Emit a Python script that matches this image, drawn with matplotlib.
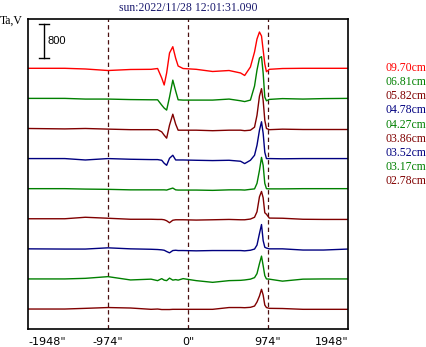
import matplotlib
matplotlib.use('Agg')
from matplotlib import pyplot as plt

# channel labels (top trace first) and their colours
freq_labels = ['09.70cm', '06.81cm', '05.82cm', '04.78cm', '04.27cm',
               '03.86cm', '03.52cm', '03.17cm', '02.78cm']
trace_colors = ['#ff0000', '#008000', '#800000', '#000080', '#008000',
                '#800000', '#000080', '#008000', '#800000']

# scan position, arcsec
x_arcsec = [-1948, -1500, -1250, -974, -700, -450, -370, -320, -290, -260, -225,
            -185, -150, -120, -60, 100, 300, 500, 640, 690, 760, 810, 840, 870,
            895, 915, 935, 955, 990, 1150, 1400, 1650, 1948]

# antenna temperature above each trace's baseline
ta_0970 = [0, 0, -16, -52, -28, -24, -5, -228, -393, -110, 360, 508, 235, 54, -5, -24,
           -75, -52, -110, -169, 31, 384, 690, 854, 760, 430, 100, -80, -24, -5, 0, 0, 0]
ta_0681 = [0, 0, -16, -16, -28, -33, -33, -158, -228, -275, 31, 430, 172, -33, -40, -40,
           -40, -16, -56, -75, -40, 290, 666, 948, 983, 595, 31, -56, -24, -5, -16, -5, 0]
ta_0582 = [0, -10, 0, -15, -28, -28, -28, -80, -158, -228, 78, 336, 101, -40, -40, -40,
           -52, -40, -40, -52, -40, 31, 310, 760, 937, 660, 195, 0, -28, -16, -24, -24, -24]
ta_0478 = [0, 0, -33, 0, -16, -24, -24, -40, -110, -158, 7, 78, -33, -33, -33, -40,
           -47, -40, -63, -118, -40, 78, 313, 666, 866, 595, 148, 0, 0, -5, 0, 0, 0]
ta_0427 = [0, 0, -10, -16, -28, -28, -28, -28, -28, -33, -10, 14, -28, -33, -33, -33,
           -40, -28, -28, -33, -16, -5, 125, 430, 736, 548, 125, 0, -5, -5, 0, 0, 0]
ta_0386 = [0, 0, 35, 12, -12, -12, -16, -16, -24, -47, -94, -35, -24, -24, -24, -31,
           -24, -16, -24, -24, -7, 35, 165, 517, 642, 494, 141, 106, 16, 12, -12, -16, -16]
ta_0352 = [0, -5, -5, 24, 0, -10, -16, -24, -33, -63, -94, -40, -33, -40, -40, -47,
           -40, -40, -40, -47, -33, -5, 89, 360, 572, 195, 38, 19, 0, 0, -28, -28, -5]
ta_0317 = [0, 0, 14, 54, -24, -5, -40, 7, -28, -40, 19, -28, -16, -28, 7, -40,
           -80, -40, -33, -24, -5, 31, 125, 360, 537, 313, 78, 0, -5, -52, -5, 0, 0]
ta_0278 = [0, 0, 16, 35, 24, -7, 0, -12, -12, -12, -12, -7, -7, -7, -7, -7,
           -7, 35, 35, 31, 40, 70, 165, 306, 464, 329, 94, 35, 16, 12, -7, -7, -7]

traces = [ta_0970, ta_0681, ta_0582, ta_0478, ta_0427,
          ta_0386, ta_0352, ta_0317, ta_0278]

x_ticks = [-1948, -974, 0, 974, 1948]
x_ticklabels = ['-1948"', '-974"', '0"', '974"', '1948"']
scale_value = 800

STEP = 708   # spacing between traces
BASE = 470   # baseline of the lowest trace

fig = plt.figure(figsize=(4.26, 3.47), dpi=100)
ax = fig.add_axes([28 / 426, 18 / 347, 320 / 426, 310 / 347])
ax.set_xlim(-1948, 1948)
ax.set_ylim(0, 7294)

for xv in x_ticks[1:-1]:
    ax.axvline(xv, color='#4b1010', lw=0.9, ls=(0, (3.5, 2.5)), zorder=1)

n = len(traces)
for i, (ta, c) in enumerate(zip(traces, trace_colors)):
    off = BASE + (n - 1 - i) * STEP
    ax.plot(x_arcsec, [v + off for v in ta], color=c, lw=1.0, zorder=2)

# scale bar
top = 7177
ax.plot([-1753, -1753], [top - scale_value, top], color='black', lw=1.0)
ax.plot([-1808, -1698], [top, top], color='black', lw=1.0)
ax.plot([-1808, -1698], [top - scale_value, top - scale_value], color='black', lw=1.0)
ax.text(-1710, top - scale_value / 2, str(scale_value), family='Liberation Sans',
        fontsize=8, va='center', ha='left')

ax.set_yticks([])
ax.set_xticks(x_ticks, labels=x_ticklabels)
ax.tick_params(axis='x', length=0, pad=5.5, labelsize=8)
tl = ax.get_xticklabels()
tl[0].set_ha('left')
tl[-1].set_ha('right')
for s in ax.spines.values():
    s.set_linewidth(1.2)
    s.set_color('black')

fig.text(188 / 426, 1 - 8 / 347, 'sun:2022/11/28 12:01:31.090', family='Liberation Serif',
         fontsize=8.5, color='#1a1a6e', ha='center', va='center')
fig.text(0.0, 1 - 21 / 347, 'Ta,V', family='Liberation Serif', fontsize=8.5,
         ha='left', va='center')

for i, (lab, c) in enumerate(zip(freq_labels, trace_colors)):
    fig.text(386 / 426, 1 - (68 + 14.16 * i) / 347, lab, color=c,
             family='Liberation Serif', fontsize=8.5, ha='left', va='center')

plt.savefig('out.png', dpi=100)
